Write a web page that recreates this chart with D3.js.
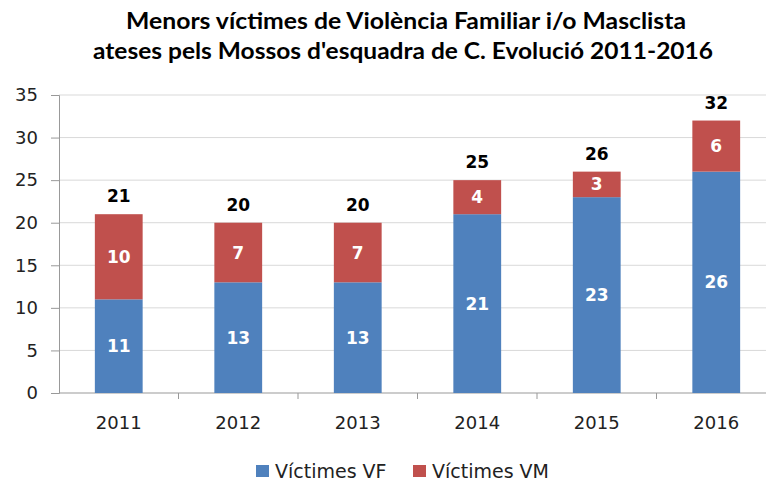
<!DOCTYPE html>
<html>
<head>
<meta charset="utf-8">
<script src="https://cdn.jsdelivr.net/npm/d3@7"></script>
<style>
  body { margin: 0; background: #fff; }
  svg { display: block; font-family: "DejaVu Sans", sans-serif; }
</style>
</head>
<body>
<div id="chart"></div>
<script>
const years = ["2011", "2012", "2013", "2014", "2015", "2016"];
const victimesVF = [11, 13, 13, 21, 23, 26];
const victimesVM = [10, 7, 7, 4, 3, 6];
const yTicks = [0, 5, 10, 15, 20, 25, 30, 35];
const seriesNames = ["Víctimes VF", "Víctimes VM"];
const colors = ["#4F81BD", "#C0504D"];

const width = 766, height = 481;
const margin = { top: 95, left: 59, bottom: 88 };
const plotRight = 776;

const svg = d3.select("#chart").append("svg")
    .attr("width", width)
    .attr("height", height);

// title (two lines, bold)
const title = svg.append("g")
    .attr("font-family", "Lato, 'Open Sans', sans-serif")
    .attr("font-weight", "bold").attr("font-size", 22).attr("fill", "#000");
title.append("text")
    .attr("x", 406).attr("y", 29)
    .attr("text-anchor", "middle")
    .attr("textLength", 560).attr("lengthAdjust", "spacingAndGlyphs")
    .text("Menors víctimes de Violència Familiar i/o Masclista");
title.append("text")
    .attr("x", 403).attr("y", 59)
    .attr("text-anchor", "middle")
    .attr("textLength", 620).attr("lengthAdjust", "spacingAndGlyphs")
    .text("ateses pels Mossos d'esquadra  de C. Evolució 2011-2016");

const data = years.map((y, i) => ({ year: y, vf: victimesVF[i], vm: victimesVM[i] }));

const x = d3.scaleBand()
    .domain(years)
    .range([margin.left, plotRight])
    .paddingInner(0.6)
    .paddingOuter(0.3);

const y = d3.scaleLinear()
    .domain([0, 35])
    .range([height - margin.bottom, margin.top]);

// gridlines
svg.append("g")
    .selectAll("line")
    .data(yTicks.slice(1))
    .join("line")
    .attr("x1", margin.left).attr("x2", plotRight)
    .attr("y1", d => y(d)).attr("y2", d => y(d))
    .attr("stroke", "#d9d9d9").attr("stroke-width", 1);

// y axis
const yAxis = svg.append("g")
    .attr("transform", `translate(${margin.left},0)`)
    .call(d3.axisLeft(y).tickValues(yTicks).tickSize(8).tickPadding(13));
yAxis.selectAll("text").attr("font-size", 18).attr("fill", "#222")
    .attr("font-family", "'DejaVu Sans', sans-serif");
yAxis.selectAll("line, path").attr("stroke", "#999");

// x axis with tick marks between categories
const step = x.step();
const xAxis = svg.append("g")
    .attr("transform", `translate(0,${y(0)})`);
xAxis.append("line")
    .attr("x1", margin.left).attr("x2", plotRight)
    .attr("stroke", "#999");
xAxis.selectAll(".sep")
    .data(years)
    .join("line")
    .attr("class", "sep")
    .attr("x1", (d, i) => margin.left + step * (i + 1))
    .attr("x2", (d, i) => margin.left + step * (i + 1))
    .attr("y1", 0).attr("y2", 6)
    .attr("stroke", "#999");
xAxis.selectAll(".lab")
    .data(years)
    .join("text")
    .attr("class", "lab")
    .attr("x", d => x(d) + x.bandwidth() / 2)
    .attr("y", 36)
    .attr("text-anchor", "middle")
    .attr("font-size", 18)
    .attr("fill", "#222")
    .text(d => d);

// stacked bars
const stack = d3.stack().keys(["vf", "vm"])(data);
const layers = svg.append("g")
    .selectAll("g")
    .data(stack)
    .join("g")
    .attr("fill", (d, i) => colors[i]);

layers.selectAll("rect")
    .data(d => d)
    .join("rect")
    .attr("x", d => x(d.data.year))
    .attr("width", x.bandwidth())
    .attr("y", d => y(d[1]))
    .attr("height", d => y(d[0]) - y(d[1]));

// segment labels
layers.selectAll("text")
    .data(d => d)
    .join("text")
    .attr("x", d => x(d.data.year) + x.bandwidth() / 2)
    .attr("y", d => (y(d[0]) + y(d[1])) / 2 + 6)
    .attr("text-anchor", "middle")
    .attr("font-size", 17)
    .attr("font-weight", "bold")
    .attr("fill", "#fff")
    .text(d => d[1] - d[0]);

// totals
svg.append("g")
    .selectAll("text")
    .data(data)
    .join("text")
    .attr("x", d => x(d.year) + x.bandwidth() / 2)
    .attr("y", d => y(d.vf + d.vm) - 12)
    .attr("text-anchor", "middle")
    .attr("font-size", 17)
    .attr("font-weight", "bold")
    .attr("fill", "#000")
    .text(d => d.vf + d.vm);

// legend
const legendX = [256, 413];
const legend = svg.append("g")
    .selectAll("g")
    .data(seriesNames)
    .join("g")
    .attr("transform", (d, i) => `translate(${legendX[i]},465)`);
legend.append("rect")
    .attr("width", 13).attr("height", 12)
    .attr("fill", (d, i) => colors[i]);
legend.append("text")
    .attr("x", 19).attr("y", 12.5)
    .attr("font-size", 19)
    .attr("fill", "#222")
    .text(d => d);
</script>
</body>
</html>
